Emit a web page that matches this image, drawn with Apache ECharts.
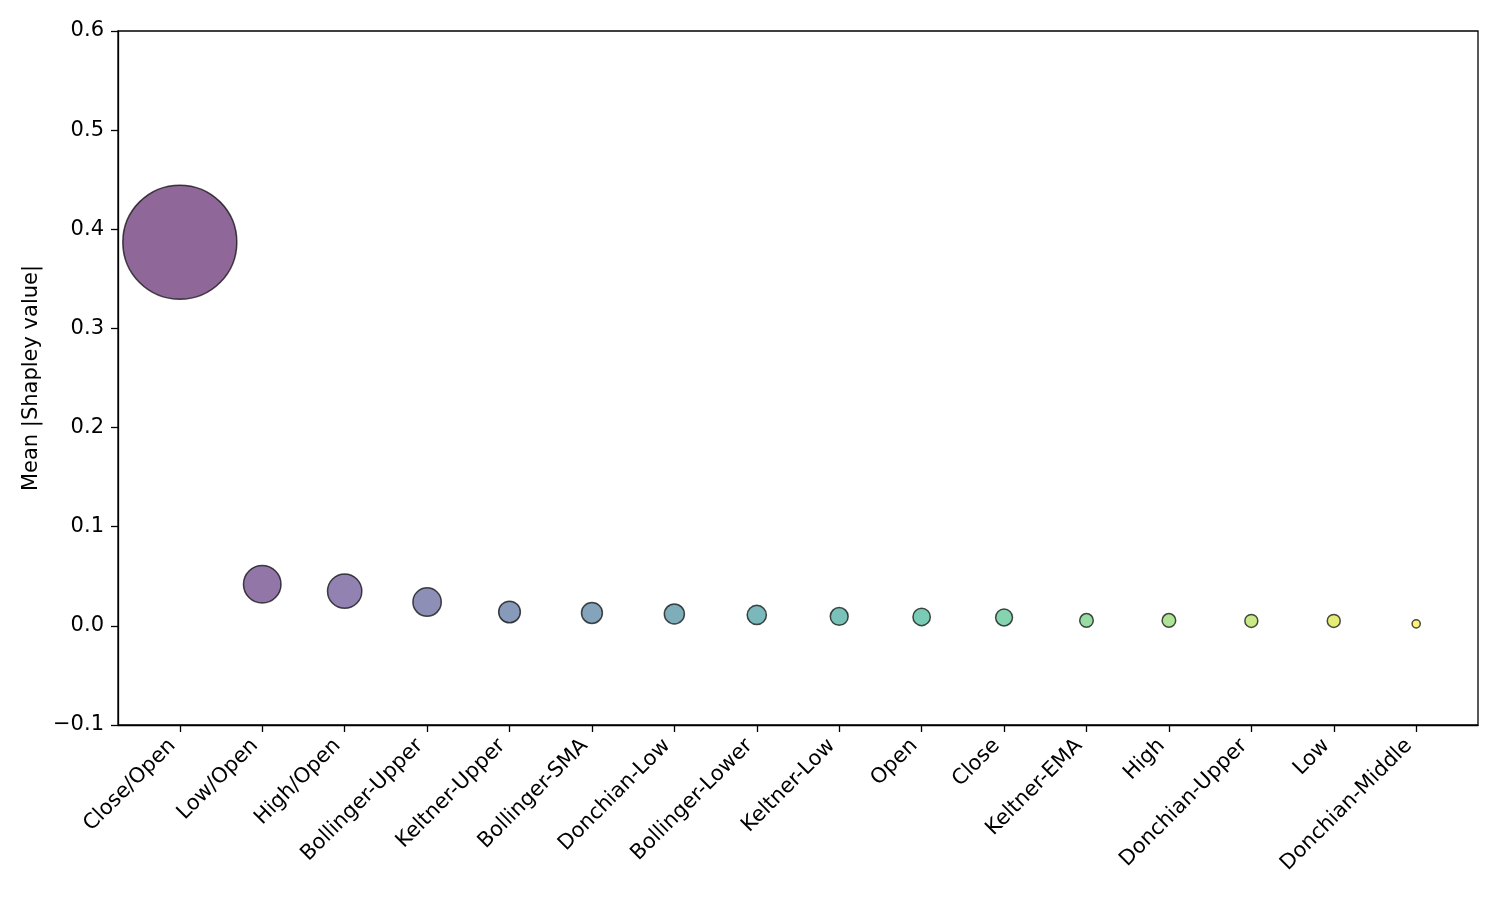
<!DOCTYPE html>
<html>
<head>
<meta charset="utf-8">
<script src="https://cdn.jsdelivr.net/npm/echarts@6/dist/echarts.min.js"></script>
<style>html,body{margin:0;padding:0;background:#fff}#c{width:1500px;height:900px}</style>
</head>
<body>
<div id="c"></div>
<script>
const categories = ["Close/Open","Low/Open","High/Open","Bollinger-Upper","Keltner-Upper","Bollinger-SMA","Donchian-Low","Bollinger-Lower","Keltner-Low","Open","Close","Keltner-EMA","High","Donchian-Upper","Low","Donchian-Middle"];
const values = [0.387,0.042,0.035,0.024,0.014,0.013,0.012,0.011,0.0095,0.009,0.0085,0.0055,0.0055,0.005,0.005,0.002];
const colors = ["#440154","#481A6C","#472F7D","#414487","#39568C","#31688E","#2A788E","#23888E","#1F988B","#22A884","#35B779","#54C568","#7AD151","#A5DB36","#D2E21B","#FDE725"];
const yTicks = [-0.1,0,0.1,0.2,0.3,0.4,0.5,0.6];

function hexA(h,a){const r=parseInt(h.slice(1,3),16),g=parseInt(h.slice(3,5),16),b=parseInt(h.slice(5,7),16);return `rgba(${r},${g},${b},${a})`;}
const maxV = Math.max(...values);
const FONT = 'DejaVu Sans';
const FS = 21;
const chart = echarts.init(document.getElementById('c'));
chart.setOption({
  animation:false,
  backgroundColor:'#fff',
  grid:{left:118,right:22,top:31,bottom:175,show:true,borderColor:'#000',borderWidth:1.3,backgroundColor:'transparent'},
  xAxis:{
    type:'value',min:-0.75,max:15.75,
    splitLine:{show:false},
    axisLine:{show:true,onZero:false,lineStyle:{color:'#000',width:1.3}},
    axisTick:{show:true,customValues:categories.map((c,i)=>i),length:7,lineStyle:{color:'#000',width:1.3}},
    axisLabel:{customValues:categories.map((c,i)=>i),rotate:45,margin:25,verticalAlign:'bottom',fontFamily:FONT,fontSize:FS,color:'#000',
      formatter:v=>categories[Math.round(v)]}
  },
  yAxis:{
    type:'value',min:-0.1,max:0.6,
    name:'Mean |Shapley value|',nameLocation:'middle',nameGap:75,nameRotate:90,
    nameTextStyle:{fontFamily:FONT,fontSize:FS,color:'#000'},
    splitLine:{show:false},
    axisLine:{show:true,onZero:false,lineStyle:{color:'#000',width:1.3}},
    axisTick:{show:true,customValues:yTicks,length:7,lineStyle:{color:'#000',width:1.3}},
    axisLabel:{customValues:yTicks,margin:14,fontFamily:FONT,fontSize:FS,color:'#000',
      formatter:v=>v.toFixed(1).replace('-','\u2212')}
  },
  series:[{
    type:'scatter',
    data:values.map((v,i)=>({value:[i,v],itemStyle:{color:hexA(colors[i],0.6)}})),
    symbolSize:d=>114*Math.sqrt(d[1]/maxV),
    itemStyle:{opacity:1,borderColor:'rgba(0,0,0,0.7)',borderWidth:1.5}
  }]
});
</script>
</body>
</html>
